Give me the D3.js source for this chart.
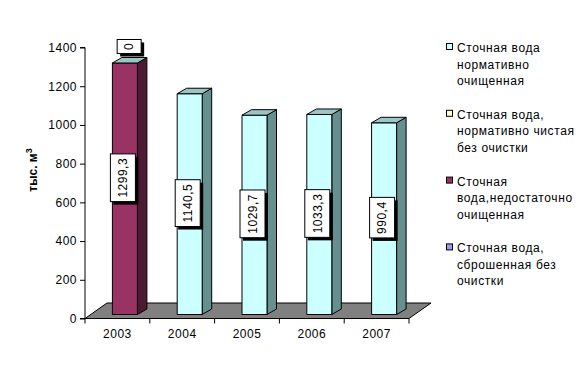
<!DOCTYPE html>
<html><head><meta charset="utf-8">
<script src="https://cdn.jsdelivr.net/npm/d3@7"></script>
<style>
html,body{margin:0;padding:0;background:#fff;}
svg{display:block;font-family:Arial,"Liberation Sans",sans-serif;}
</style></head>
<body><svg id="c" width="588" height="378"></svg>
<script>
const years = ["2003", "2004", "2005", "2006", "2007"];
// series values (null = no segment / no label)
const cleanedNorm   = [null, 1140.5, 1029.7, 1033.3, 990.4];
const cleanNoTreat  = [null, null, null, null, null];
const underCleaned  = [1299.3, null, null, null, null];
const dischargedRaw = [0, null, null, null, null];
const seriesNames = [
  ["Сточная вода", "нормативно", "очищенная"],
  ["Сточная вода,", "нормативно чистая", "без очистки"],
  ["Сточная", "вода,недостаточно", "очищенная"],
  ["Сточная вода,", "сброшенная без", "очистки"]
];
const yTicks = [0, 200, 400, 600, 800, 1000, 1200, 1400];
const yTitle = "тыс. м";

const series = [cleanedNorm, cleanNoTreat, underCleaned, dischargedRaw];
const colors = [
  {front:"#CCFFFF", side:"#668F8F", top:"#9CC6C6"},
  {front:"#FFFFCC", side:"#80805F", top:"#C6C69C"},
  {front:"#993366", side:"#4D1A33", top:"#9CC6C6"},
  {front:"#9999FF", side:"#4D4D80", top:"#7373BF"}
];

const svg = d3.select("#c");
const x = d3.scaleBand().domain(years).range([85, 409]).padding(0);
const y = d3.scaleLinear().domain([0, 1400]).range([318.5, 47.5]);

const floorDX = 22, floorDY = -15.5;
const barOffX = 7.5, barOffY = -4, barW = 25, depDX = 9.5, depDY = -5.5;

// floor
const y0 = y(0);
svg.append("polygon")
  .attr("points", [[85, y0], [409, y0], [409 + floorDX, y0 + floorDY], [85 + floorDX, y0 + floorDY]].map(p => p.join(",")).join(" "))
  .attr("fill", "#808080").attr("stroke", "#000").attr("stroke-width", 1);

// y axis
const yAxis = d3.axisLeft(y).tickValues(yTicks).tickSize(5).tickPadding(3).tickFormat(d3.format("d"));
const ga = svg.append("g").attr("transform", "translate(85,0)").call(yAxis);
ga.select(".domain").attr("stroke", "#000").attr("d", `M-5,${y(1400)}H0V${y(0)}H-5`);
ga.selectAll("text").attr("font-size", 12).attr("letter-spacing", 0.5).attr("fill", "#000")
  .attr("font-family", "Arial, 'Liberation Sans', sans-serif");
ga.selectAll("line").attr("stroke", "#000");

// x axis
const xAxis = d3.axisBottom(x).tickSize(0).tickPadding(0);
const gx = svg.append("g").attr("transform", `translate(0,${y0})`).call(xAxis);
gx.select(".domain").remove();
gx.selectAll("text").attr("font-size", 12).attr("letter-spacing", 0.5).attr("fill", "#000")
  .attr("dy", null).attr("y", 19)
  .attr("font-family", "Arial, 'Liberation Sans', sans-serif");
const edges = years.map(d => x(d)).concat([x.range()[1]]);
svg.append("g").selectAll("line").data(edges).join("line")
  .attr("x1", d => d).attr("x2", d => d).attr("y1", y0).attr("y2", y0 + 5)
  .attr("stroke", "#000");
svg.append("line").attr("x1", 85).attr("x2", 409).attr("y1", y0).attr("y2", y0).attr("stroke", "#000");

// bars (stacked, 3D)
const bars = svg.append("g");
const labels = [];
years.forEach((yr, i) => {
  let cum = 0;
  const bx = x(yr) + x.bandwidth() / 2 + barOffX - barW / 2;
  series.forEach((s, si) => {
    const v = s[i];
    if (v === null) return;
    const yb = y(cum) + barOffY, yt = y(cum + v) + barOffY;
    const c = colors[si];
    const g = bars.append("g").attr("stroke", "#000").attr("stroke-width", 1).attr("stroke-linejoin", "round");
    if (v > 0) {
      g.append("polygon").attr("fill", c.side)
        .attr("points", [[bx + barW, yb], [bx + barW + depDX, yb + depDY], [bx + barW + depDX, yt + depDY], [bx + barW, yt]].map(p => p.join(",")).join(" "));
      g.append("rect").attr("fill", c.front).attr("x", bx).attr("y", yt).attr("width", barW).attr("height", yb - yt);
    }
    labels.push({v, bx, yt, yb, si, i});
    cum += v;
  });
  // top face of stack
  const topY = y(cum) + barOffY;
  const topSeries = series.map((s, si) => s[i] !== null && s[i] > 0 ? si : -1).filter(d => d >= 0).pop();
  bars.append("polygon").attr("fill", colors[topSeries].top).attr("stroke", "#000")
    .attr("points", [[bx, topY], [bx + barW, topY], [bx + barW + depDX, topY + depDY], [bx + depDX, topY + depDY]].map(p => p.join(",")).join(" "));
});

// data labels
const fmt = v => String(v).replace(".", ",");
const lg = svg.append("g");
labels.forEach(L => {
  const txt = fmt(L.v);
  let cx, cy, w, h;
  const t = lg.append("text").text(txt).attr("font-size", 12).attr("letter-spacing", 0.5)
    .attr("text-anchor", "middle").attr("fill", "#000");
  const len = t.node().getComputedTextLength();
  if (L.v === 0) {
    cx = L.bx + barW / 2 + depDX / 2 - 0.5; cy = L.yt - 16.5;
    w = 24; h = 14;
  } else {
    cx = L.bx - 2 + 12.5;
    cy = (L.yt + L.yb) / 2 + (L.i === 0 ? -11 : -1);
    w = 25; h = len + 8;
  }
  lg.insert("rect", "text").attr("x", cx - w / 2 + 3).attr("y", cy - h / 2 + 3).attr("width", w).attr("height", h).attr("fill", "#000");
  lg.insert("rect", "text").attr("x", cx - w / 2).attr("y", cy - h / 2).attr("width", w).attr("height", h)
    .attr("fill", "#fff").attr("stroke", "#000").attr("stroke-width", 1);
  t.attr("transform", `translate(${cx + 4.3},${cy}) rotate(-90)`);
});
// move texts above rects
lg.selectAll("text").raise();

// y title
svg.append("text").attr("transform", "translate(37,170) rotate(-90)")
  .attr("text-anchor", "middle").attr("font-size", 12).attr("font-weight", "bold").attr("fill", "#000")
  .text(yTitle)
  .append("tspan").attr("dy", -5).attr("font-size", 9).text("3");

// legend
const leg = svg.append("g");
const legendOrder = [0, 1, 2, 3];
legendOrder.forEach((si, k) => {
  const base = 52 + k * 66.8;
  leg.append("rect").attr("x", 446.5).attr("y", base - 8.5).attr("width", 6).attr("height", 6)
    .attr("fill", colors[si].front).attr("stroke", "#000").attr("stroke-width", 1);
  seriesNames[si].forEach((line, li) => {
    leg.append("text").attr("x", 457).attr("y", base + li * 16.5)
      .attr("font-size", 12).attr("letter-spacing", 0.6).attr("fill", "#000").text(line);
  });
});
</script></body></html>
